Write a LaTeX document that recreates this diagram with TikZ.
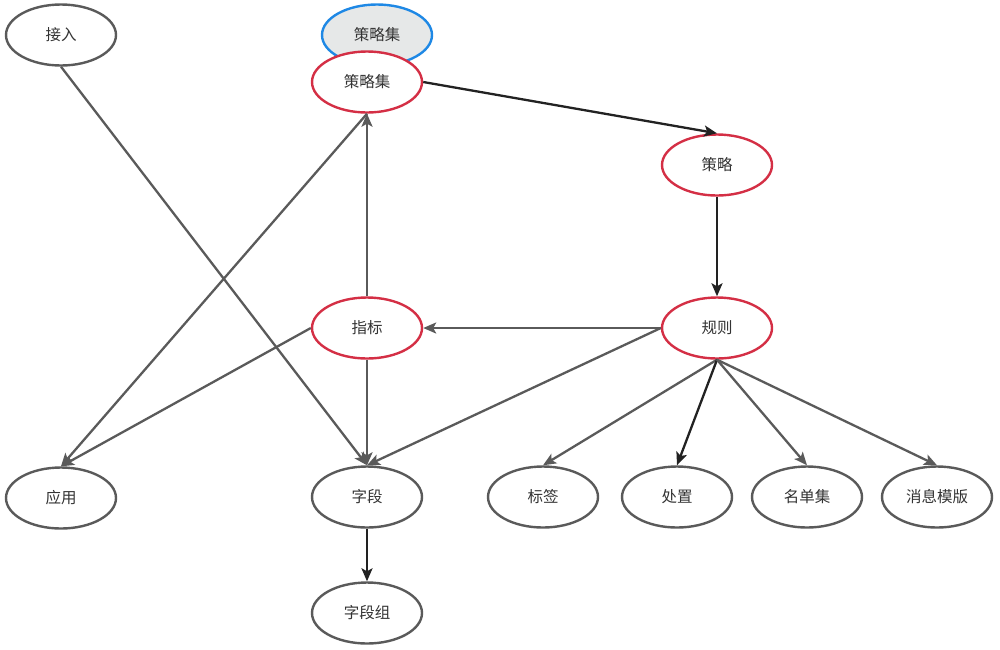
\documentclass[tikz,border=0pt]{standalone}
\usepackage{fontspec}
\setmainfont{Noto Sans CJK SC}
\usetikzlibrary{shapes.geometric,arrows.meta}
\definecolor{grayline}{HTML}{5A5A5A}
\definecolor{darkline}{HTML}{222222}
\definecolor{redline}{HTML}{D42F45}
\definecolor{blueline}{HTML}{1E88E5}
\definecolor{fillgray}{HTML}{E6E8E8}
\definecolor{txt}{HTML}{333333}
\tikzset{
  ell/.style={ellipse,draw=grayline,line width=2.4pt,minimum width=110pt,minimum height=61pt,inner sep=0pt,fill=white,text=txt,font=\fontsize{15.5}{17}\selectfont},
  redell/.style={ell,draw=redline},
  blueell/.style={ell,draw=blueline,fill=fillgray},
  edge/.style={draw=grayline,line width=2.3pt,-{Stealth[length=13pt,width=11pt,inset=3pt]}},
  darkedge/.style={edge,draw=darkline},
}
\begin{document}
\begin{tikzpicture}[x=1pt,y=-1pt]
\useasboundingbox (0,0) rectangle (1000,649);
\node[blueell] (psb) at (377,35) {策略集};
\node[ell] (jr) at (61,35) {接入};
\node[redell] (ps) at (367,82) {策略集};
\node[redell] (cl) at (717,165) {策略};
\node[redell] (gz) at (717,328) {规则};
\node[redell] (zb) at (367,328) {指标};
\node[ell] (yy) at (61,498) {应用};
\node[ell] (zd) at (367,497) {字段};
\node[ell] (bq) at (543,497) {标签};
\node[ell] (cz) at (677,497) {处置};
\node[ell] (mdj) at (807,497) {名单集};
\node[ell] (xx) at (937,497) {消息模版};
\node[ell] (zdz) at (367,613) {字段组};
\draw[edge] (jr.south) -- (zd.north);
\draw[darkedge] (ps.east) -- (cl.north);
\draw[darkedge] (cl.south) -- (gz.north);
\draw[edge] (gz.west) -- (zb.east);
\draw[edge] (gz.west) -- (zd.north);
\draw[edge] (gz.south) -- (bq.north);
\draw[darkedge] (gz.south) -- (cz.north);
\draw[edge] (gz.south) -- (mdj.north);
\draw[edge] (gz.south) -- (xx.north);
\draw[edge] (zb.north) -- (ps.south);
\draw[edge] (zb.south) -- (zd.north);
\draw[edge] (zb.west) -- (yy.north);
\draw[edge] (ps.south) -- (yy.north);
\draw[darkedge] (zd.south) -- (zdz.north);
\end{tikzpicture}
\end{document}
